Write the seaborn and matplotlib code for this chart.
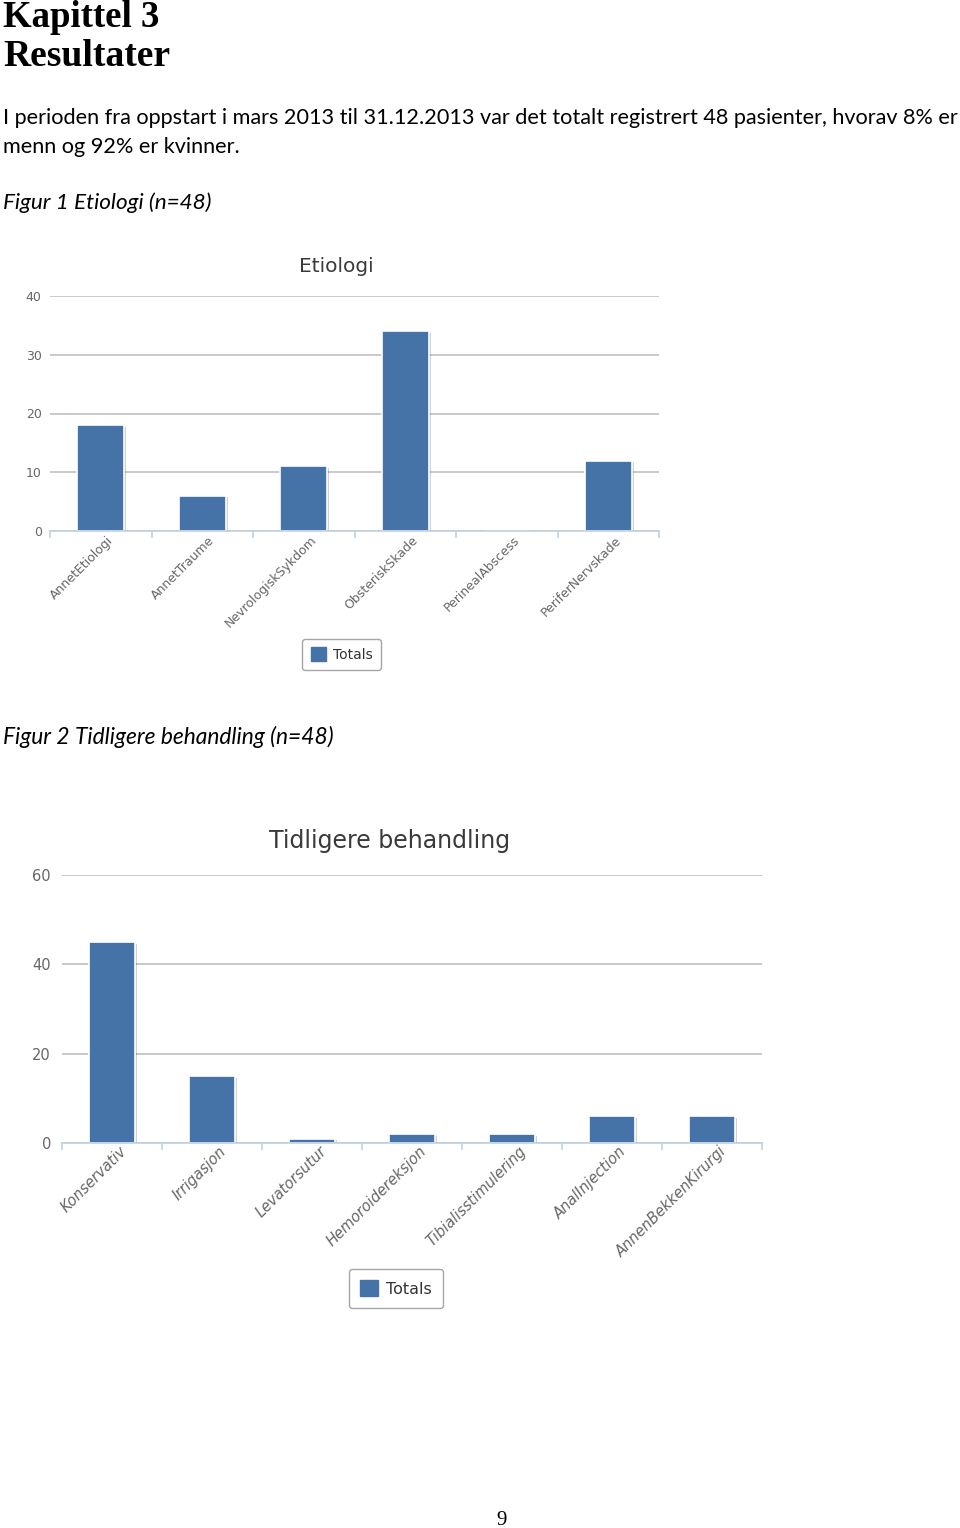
import matplotlib
matplotlib.use("Agg")
import matplotlib.pyplot as plt
import seaborn as sns
import pandas as pd
import numpy as np
from matplotlib import patheffects as pe
from matplotlib.patches import Patch
from matplotlib.transforms import ScaledTranslation

# ---------------- data ----------------
etiologi_cats = ["AnnetEtiologi", "AnnetTraume", "NevrologiskSykdom",
                 "ObsteriskSkade", "PerinealAbscess", "PeriferNervskade"]
etiologi_vals = [18, 6, 11, 34, 0, 12]
etiologi_yticks = [0, 10, 20, 30, 40]

behandling_cats = ["Konservativ", "Irrigasjon", "Levatorsutur", "Hemoroidereksjon",
                   "Tibialisstimulering", "AnalInjection", "AnnenBekkenKirurgi"]
behandling_vals = [45, 15, 1, 2, 2, 6, 6]
behandling_yticks = [0, 20, 40, 60]

series_name = "Totals"

heading1 = "Kapittel 3"
heading2 = "Resultater"
body1 = ("I perioden fra oppstart i mars 2013 til 31.12.2013 var det totalt "
         "registrert 48 pasienter, hvorav 8% er")
body2 = "menn og 92% er kvinner."
caption1 = "Figur 1 Etiologi (n=48)"
caption2 = "Figur 2 Tidligere behandling (n=48)"
page_no = "9"

# ---------------- style ----------------
sns.set_theme(style="white")
plt.rcParams["font.family"] = ["DejaVu Sans"]

BAR = "#4572A7"
GRID = "#C0C0C0"
AXIS = "#C0D0E0"
LABEL = "#666666"
TITLE = "#3a3a3a"

W, H = 960, 1528
fig = plt.figure(figsize=(W / 100, H / 100), dpi=100)
fig.patch.set_facecolor("white")
renderer = fig.canvas.get_renderer()


def fx(x):
    return x / W


def fy(y):
    return 1 - y / H


def fit_text(x, y, s, width, **kw):
    t = fig.text(fx(x), fy(y), s, fontsize=10, **kw)
    bb = t.get_window_extent(renderer)
    size = 10 * width / bb.width
    t.set_fontsize(size)
    return t, size


# ---------------- document text ----------------
fit_text(3, 27, heading1, 157, family="Liberation Serif", weight="bold",
         va="baseline", ha="left", color="black")
fit_text(3, 66.5, heading2, 168, family="Liberation Serif", weight="bold",
         va="baseline", ha="left", color="black")
_, bsize = fit_text(3, 124, body1, 954, family="Lato", va="baseline", ha="left",
                    color="black")
fig.text(fx(3), fy(153), body2, fontsize=bsize, family="Lato", va="baseline",
         ha="left", color="black")
fit_text(3, 209, caption1, 209, family="Lato", style="italic",
         va="baseline", ha="left", color="black")
fit_text(3, 744, caption2, 331, family="Lato", style="italic",
         va="baseline", ha="left", color="black")
fig.text(fx(502), fy(1525), page_no, fontsize=15, family="Liberation Serif",
         va="baseline", ha="center", color="black")


# ---------------- charts ----------------
def draw_chart(rect, cats, vals, yticks, title, title_xy, title_size,
               tick_size, ypad, xlab_size, xlab_style, xlab_shift,
               legend_xy, legend_size, legend_pad):
    l, t, r, b = rect
    ax = fig.add_axes([fx(l), fy(b), (r - l) / W, (b - t) / H])
    df = pd.DataFrame({"cat": cats, "val": vals})
    sns.barplot(data=df, x="cat", y="val", color=BAR, saturation=1, width=0.46,
                edgecolor="white", linewidth=1.2, ax=ax)
    for p in ax.patches:
        p.set_path_effects([pe.SimplePatchShadow(offset=(1.5, -1.2),
                                                 shadow_rgbFace="black", alpha=0.18),
                            pe.Normal()])
    n = len(cats)
    ax.set_xlim(-0.5, n - 0.5)
    ax.set_ylim(yticks[0], yticks[-1])
    ax.set_yticks(yticks)
    ax.yaxis.grid(True, color=GRID, lw=1.2)
    ax.xaxis.grid(False)
    ax.set_axisbelow(True)
    for s in ["top", "right", "left"]:
        ax.spines[s].set_visible(False)
    ax.spines["bottom"].set_color(AXIS)
    ax.spines["bottom"].set_linewidth(1.2)
    ax.spines["bottom"].set_zorder(3)
    ax.tick_params(axis="y", length=0, pad=ypad, labelsize=tick_size,
                   labelcolor=LABEL)
    ax.set_xticks(range(n))
    ax.set_xticklabels(cats, rotation=45, ha="right", rotation_mode="anchor",
                       fontsize=xlab_size, color=LABEL, style=xlab_style)
    ax.tick_params(axis="x", which="major", length=0, pad=4)
    shift = ScaledTranslation(xlab_shift[0] / 100, xlab_shift[1] / 100,
                              fig.dpi_scale_trans)
    for lab in ax.get_xticklabels():
        lab.set_transform(lab.get_transform() + shift)
    ax.set_xticks(np.arange(-0.5, n), minor=True)
    ax.tick_params(axis="x", which="minor", length=5, color=AXIS, width=1.2,
                   bottom=True)
    ax.set_xlabel("")
    ax.set_ylabel("")
    fig.text(fx(title_xy[0]), fy(title_xy[1]), title, fontsize=title_size,
             color=TITLE, ha="center", va="center")
    handles = [Patch(facecolor=BAR, edgecolor=BAR, label=series_name)]
    leg = fig.legend(handles=handles, loc="center",
                     bbox_to_anchor=(fx(legend_xy[0]), fy(legend_xy[1])),
                     bbox_transform=fig.transFigure, fontsize=legend_size,
                     frameon=True, fancybox=True, edgecolor="#909090",
                     handlelength=1.1, handleheight=1.1, handletextpad=0.5,
                     borderpad=legend_pad, labelcolor="#333333")
    leg.get_frame().set_linewidth(1.0)
    return ax


draw_chart((50, 296, 659, 531), etiologi_cats, etiologi_vals, etiologi_yticks,
           "Etiologi", (336, 266), 14.5, 9, 6, 9, "normal", (6, 3),
           (341.5, 654.5), 10, 0.6)
draw_chart((62, 875, 762, 1143), behandling_cats, behandling_vals, behandling_yticks,
           "Tidligere behandling", (390, 841), 17, 10.5, 8, 10.5, "italic", (7, 5),
           (396, 1288.5), 11.5, 0.7)

fig.savefig("out.png", dpi=100, facecolor="white")
